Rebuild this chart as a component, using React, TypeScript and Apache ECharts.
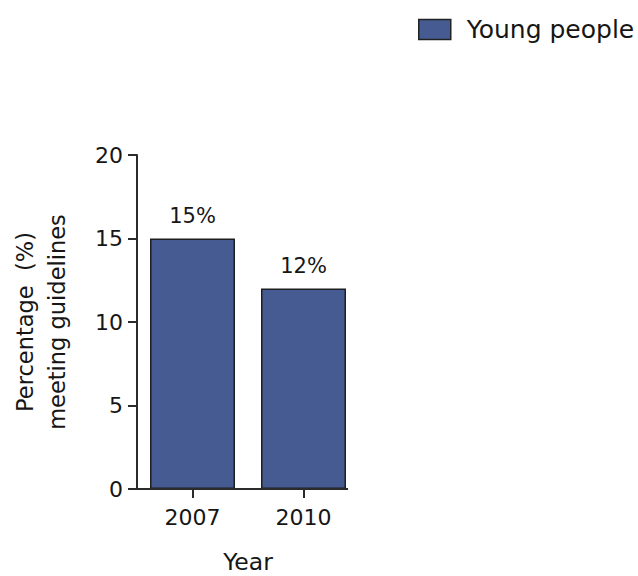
import React, { useEffect, useRef } from "react";
import * as echarts from "echarts";

const categories = ["2007", "2010"];
const seriesName = "Young people";
const values = [15, 12];
const yTicks = [0, 5, 10, 15, 20];

const FONT = "DejaVu Sans";
const TEXT = "#161616";
const AXIS = "#2b2b2b";
const BAR = "#455b92";

export default function App() {
  const ref = useRef<HTMLDivElement>(null);
  useEffect(() => {
    document.body.style.margin = "0";
    const chart = echarts.init(ref.current!, null, { renderer: "svg" });
    const gridLeft = 137;
    const gridTop = 155;
    const gridBottom = 87;
    chart.setOption({
      animation: false,
      backgroundColor: "#ffffff",
      textStyle: { fontFamily: FONT },
      legend: {
        data: [seriesName],
        left: 418,
        top: 17,
        padding: 0,
        itemWidth: 32,
        itemHeight: 20,
        icon: "rect",
        itemStyle: { borderColor: "#222", borderWidth: 1.5 },
        textStyle: { fontFamily: FONT, fontSize: 25, color: TEXT, padding: [0, 0, 0, 11] },
      },
      grid: {
        left: gridLeft,
        top: gridTop,
        bottom: gridBottom,
        width: 222,
        containLabel: false,
        outerBoundsMode: "none",
      },
      xAxis: {
        type: "category",
        data: categories,
        name: "Year",
        nameLocation: "middle",
        nameGap: 62,
        nameTextStyle: { fontFamily: FONT, fontSize: 23.5, color: TEXT, lineHeight: 22 },
        axisLine: { show: false },
        axisTick: { show: true, alignWithLabel: true, length: 9, lineStyle: { color: AXIS, width: 2 } },
        axisLabel: { margin: 17, fontFamily: FONT, fontSize: 22, color: TEXT },
      },
      yAxis: {
        type: "value",
        min: yTicks[0],
        max: yTicks[yTicks.length - 1],
        interval: yTicks[1] - yTicks[0],
        name: "Percentage  (%)\nmeeting guidelines",
        nameLocation: "middle",
        nameRotate: 90,
        nameGap: 64,
        nameTextStyle: { fontFamily: FONT, fontSize: 22.5, color: TEXT, lineHeight: 32 },
        splitLine: { show: false },
        axisLine: { show: true, lineStyle: { color: AXIS, width: 2 } },
        axisTick: { show: true, length: 9, lineStyle: { color: AXIS, width: 2 } },
        axisLabel: { margin: 14, fontFamily: FONT, fontSize: 22, color: TEXT },
      },
      graphic: [
        {
          type: "line",
          shape: { x1: gridLeft - 9, y1: 576 - gridBottom, x2: gridLeft + 211, y2: 576 - gridBottom },
          style: { stroke: AXIS, lineWidth: 2 },
          z: 100,
        },
      ],
      series: [
        {
          name: seriesName,
          type: "bar",
          data: values,
          barWidth: 85,
          itemStyle: { color: BAR, borderColor: "#1f1f1f", borderWidth: 1.5 },
          label: {
            show: true,
            position: "top",
            distance: 12,
            formatter: "{c}%",
            fontFamily: FONT,
            fontSize: 21,
            color: TEXT,
          },
        },
      ],
    });
    return () => chart.dispose();
  }, []);
  return <div ref={ref} style={{ width: 638, height: 576 }} />;
}
